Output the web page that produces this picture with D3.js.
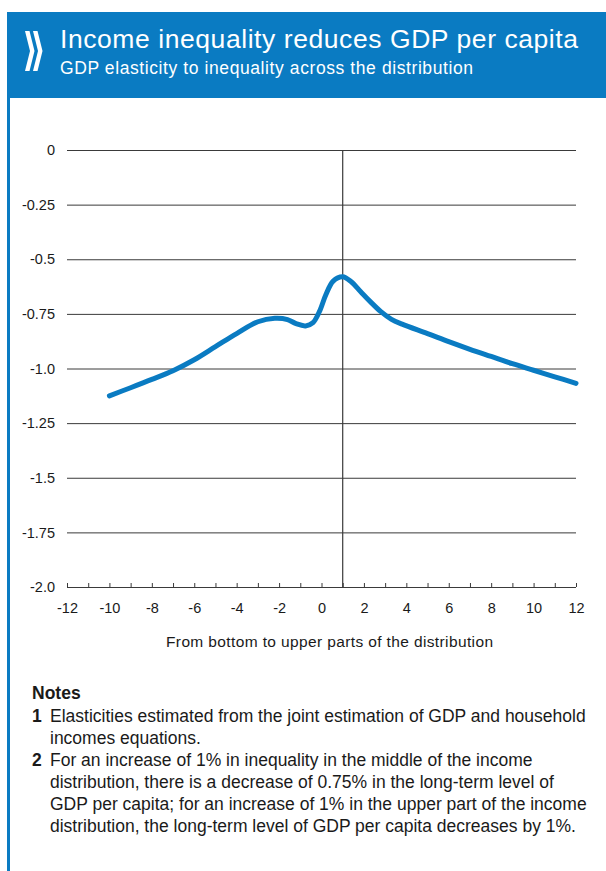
<!DOCTYPE html>
<html>
<head>
<meta charset="utf-8">
<script src="https://cdn.jsdelivr.net/npm/d3@7"></script>
<style>
  html, body { margin: 0; padding: 0; background: #fff; }
  svg { display: block; font-family: "Liberation Sans", Arial, Helvetica, sans-serif; }
</style>
</head>
<body>
<svg id="chart" width="606" height="871"></svg>
<script>
// Position in the distribution (bottom → top) and estimated GDP elasticity
const distribution = [-10, -9, -8, -7, -6, -5, -4, -3, -2.2, -1.6, -1.2, -0.75, -0.4, -0.1, 0.2, 0.55, 1, 1.4, 1.85, 2.3, 2.8, 3.3, 3.8, 5, 6, 7, 8, 9, 10, 11, 12];
const elasticity   = [-1.125, -1.088, -1.05, -1.01, -0.96, -0.90, -0.84, -0.786, -0.770, -0.776, -0.795, -0.805, -0.79, -0.74, -0.664, -0.60, -0.58, -0.603, -0.649, -0.694, -0.74, -0.775, -0.797, -0.84, -0.877, -0.912, -0.945, -0.978, -1.008, -1.038, -1.068];
const xTicks = [-12, -10, -8, -6, -4, -2, 0, 2, 4, 6, 8, 10, 12];
const yTicks = [0, -0.25, -0.5, -0.75, -1.0, -1.25, -1.5, -1.75, -2.0];
const yTickLabels = ["0", "-0.25", "-0.5", "-0.75", "-1.0", "-1.25", "-1.5", "-1.75", "-2.0"];
const referenceX = 1;

const title = "Income inequality reduces GDP per capita";
const subtitle = "GDP elasticity to inequality across the distribution";
const xTitle = "From bottom to upper parts of the distribution";
const notes = [
  ["1", ["Elasticities estimated from the joint estimation of GDP and household", "incomes equations."]],
  ["2", ["For an increase of 1% in inequality in the middle of the income",
         "distribution, there is a decrease of 0.75% in the long-term level of",
         "GDP per capita; for an increase of 1% in the upper part of the income",
         "distribution, the long-term level of GDP per capita decreases by 1%."]]
];

const blue = "#0a7bc2";
const ink = "#1a1a1a";
const svg = d3.select("#chart");

// Header band and left rule
svg.append("rect").attr("x", 7).attr("y", 12).attr("width", 599).attr("height", 86).attr("fill", blue);
svg.append("rect").attr("x", 7).attr("y", 12).attr("width", 3).attr("height", 859).attr("fill", blue);

// Double chevron mark
const chev = (x0) => `M${x0},31 L${x0 + 4.5},31 L${x0 + 9.5},51 L${x0 + 4.5},71 L${x0},71 L${x0 + 5},51 Z`;
svg.append("path").attr("d", chev(25)).attr("fill", "#fff");
svg.append("path").attr("d", chev(33)).attr("fill", "#fff");

svg.append("text").attr("x", 60).attr("y", 47.5).attr("fill", "#fff")
  .attr("font-size", 26.5).attr("textLength", 518).attr("lengthAdjust", "spacing").text(title);
svg.append("text").attr("x", 60).attr("y", 74).attr("fill", "#fff")
  .attr("font-size", 17.5).attr("textLength", 413).attr("lengthAdjust", "spacing").text(subtitle);

// Plot area
const plotLeft = 67, plotRight = 576, plotTop = 150, plotBottom = 587;
const x = d3.scaleLinear().domain([-12, 12]).range([plotLeft, plotRight]);
const y = d3.scaleLinear().domain([-2, 0]).range([plotBottom, plotTop]);

const yAxis = svg.append("g").attr("transform", `translate(${plotLeft},0)`)
  .call(d3.axisLeft(y).tickValues(yTicks).tickSize(-(plotRight - plotLeft)).tickPadding(12)
    .tickFormat((d, i) => yTickLabels[i]));
yAxis.select(".domain").remove();
yAxis.selectAll(".tick line").attr("stroke", "#3a3a3a").attr("stroke-width", 1);
yAxis.selectAll(".tick text").attr("fill", ink).attr("font-size", 14.5)
  .attr("font-family", "Liberation Sans, Arial, sans-serif");

// Minor ticks along the bottom axis
const minor = svg.append("g").attr("transform", `translate(0,${plotBottom})`)
  .call(d3.axisBottom(x).tickValues(d3.range(-12, 13, 1)).tickSizeInner(-4).tickSizeOuter(0).tickFormat(""));
minor.select(".domain").remove();
minor.selectAll(".tick line").attr("stroke", "#3a3a3a");

const xAxis = svg.append("g").attr("transform", `translate(0,${plotBottom})`)
  .call(d3.axisBottom(x).tickValues(xTicks).tickSize(0).tickPadding(16).tickFormat(d => String(d)));
xAxis.select(".domain").remove();
xAxis.selectAll(".tick text").attr("fill", ink).attr("font-size", 14.5)
  .attr("font-family", "Liberation Sans, Arial, sans-serif");

// Reference line at the peak of the distribution
svg.append("line").attr("x1", x(referenceX)).attr("x2", x(referenceX))
  .attr("y1", y(0)).attr("y2", y(-2)).attr("stroke", "#3a3a3a").attr("stroke-width", 1.2);

svg.append("text").attr("x", 166).attr("y", 647)
  .attr("fill", ink).attr("font-size", 15.5).attr("textLength", 327).attr("lengthAdjust", "spacing").text(xTitle);

// Elasticity curve
const pts = distribution.map((d, i) => [d, elasticity[i]]);
svg.append("path").datum(pts)
  .attr("fill", "none").attr("stroke", blue).attr("stroke-width", 5)
  .attr("stroke-linecap", "round").attr("stroke-linejoin", "round")
  .attr("d", d3.line().x(d => x(d[0])).y(d => y(d[1])).curve(d3.curveCatmullRom.alpha(0.5)));

// Notes
svg.append("text").attr("x", 32).attr("y", 699).attr("fill", ink)
  .attr("font-size", 17.5).attr("font-weight", "bold").text("Notes");
let lineY = 722;
notes.forEach(([num, lines]) => {
  svg.append("text").attr("x", 32).attr("y", lineY).attr("fill", ink)
    .attr("font-size", 17.5).attr("font-weight", "bold").text(num);
  lines.forEach(l => {
    svg.append("text").attr("x", 50).attr("y", lineY).attr("fill", ink)
      .attr("font-size", 17.5).text(l);
    lineY += 22;
  });
});
</script>
</body>
</html>
